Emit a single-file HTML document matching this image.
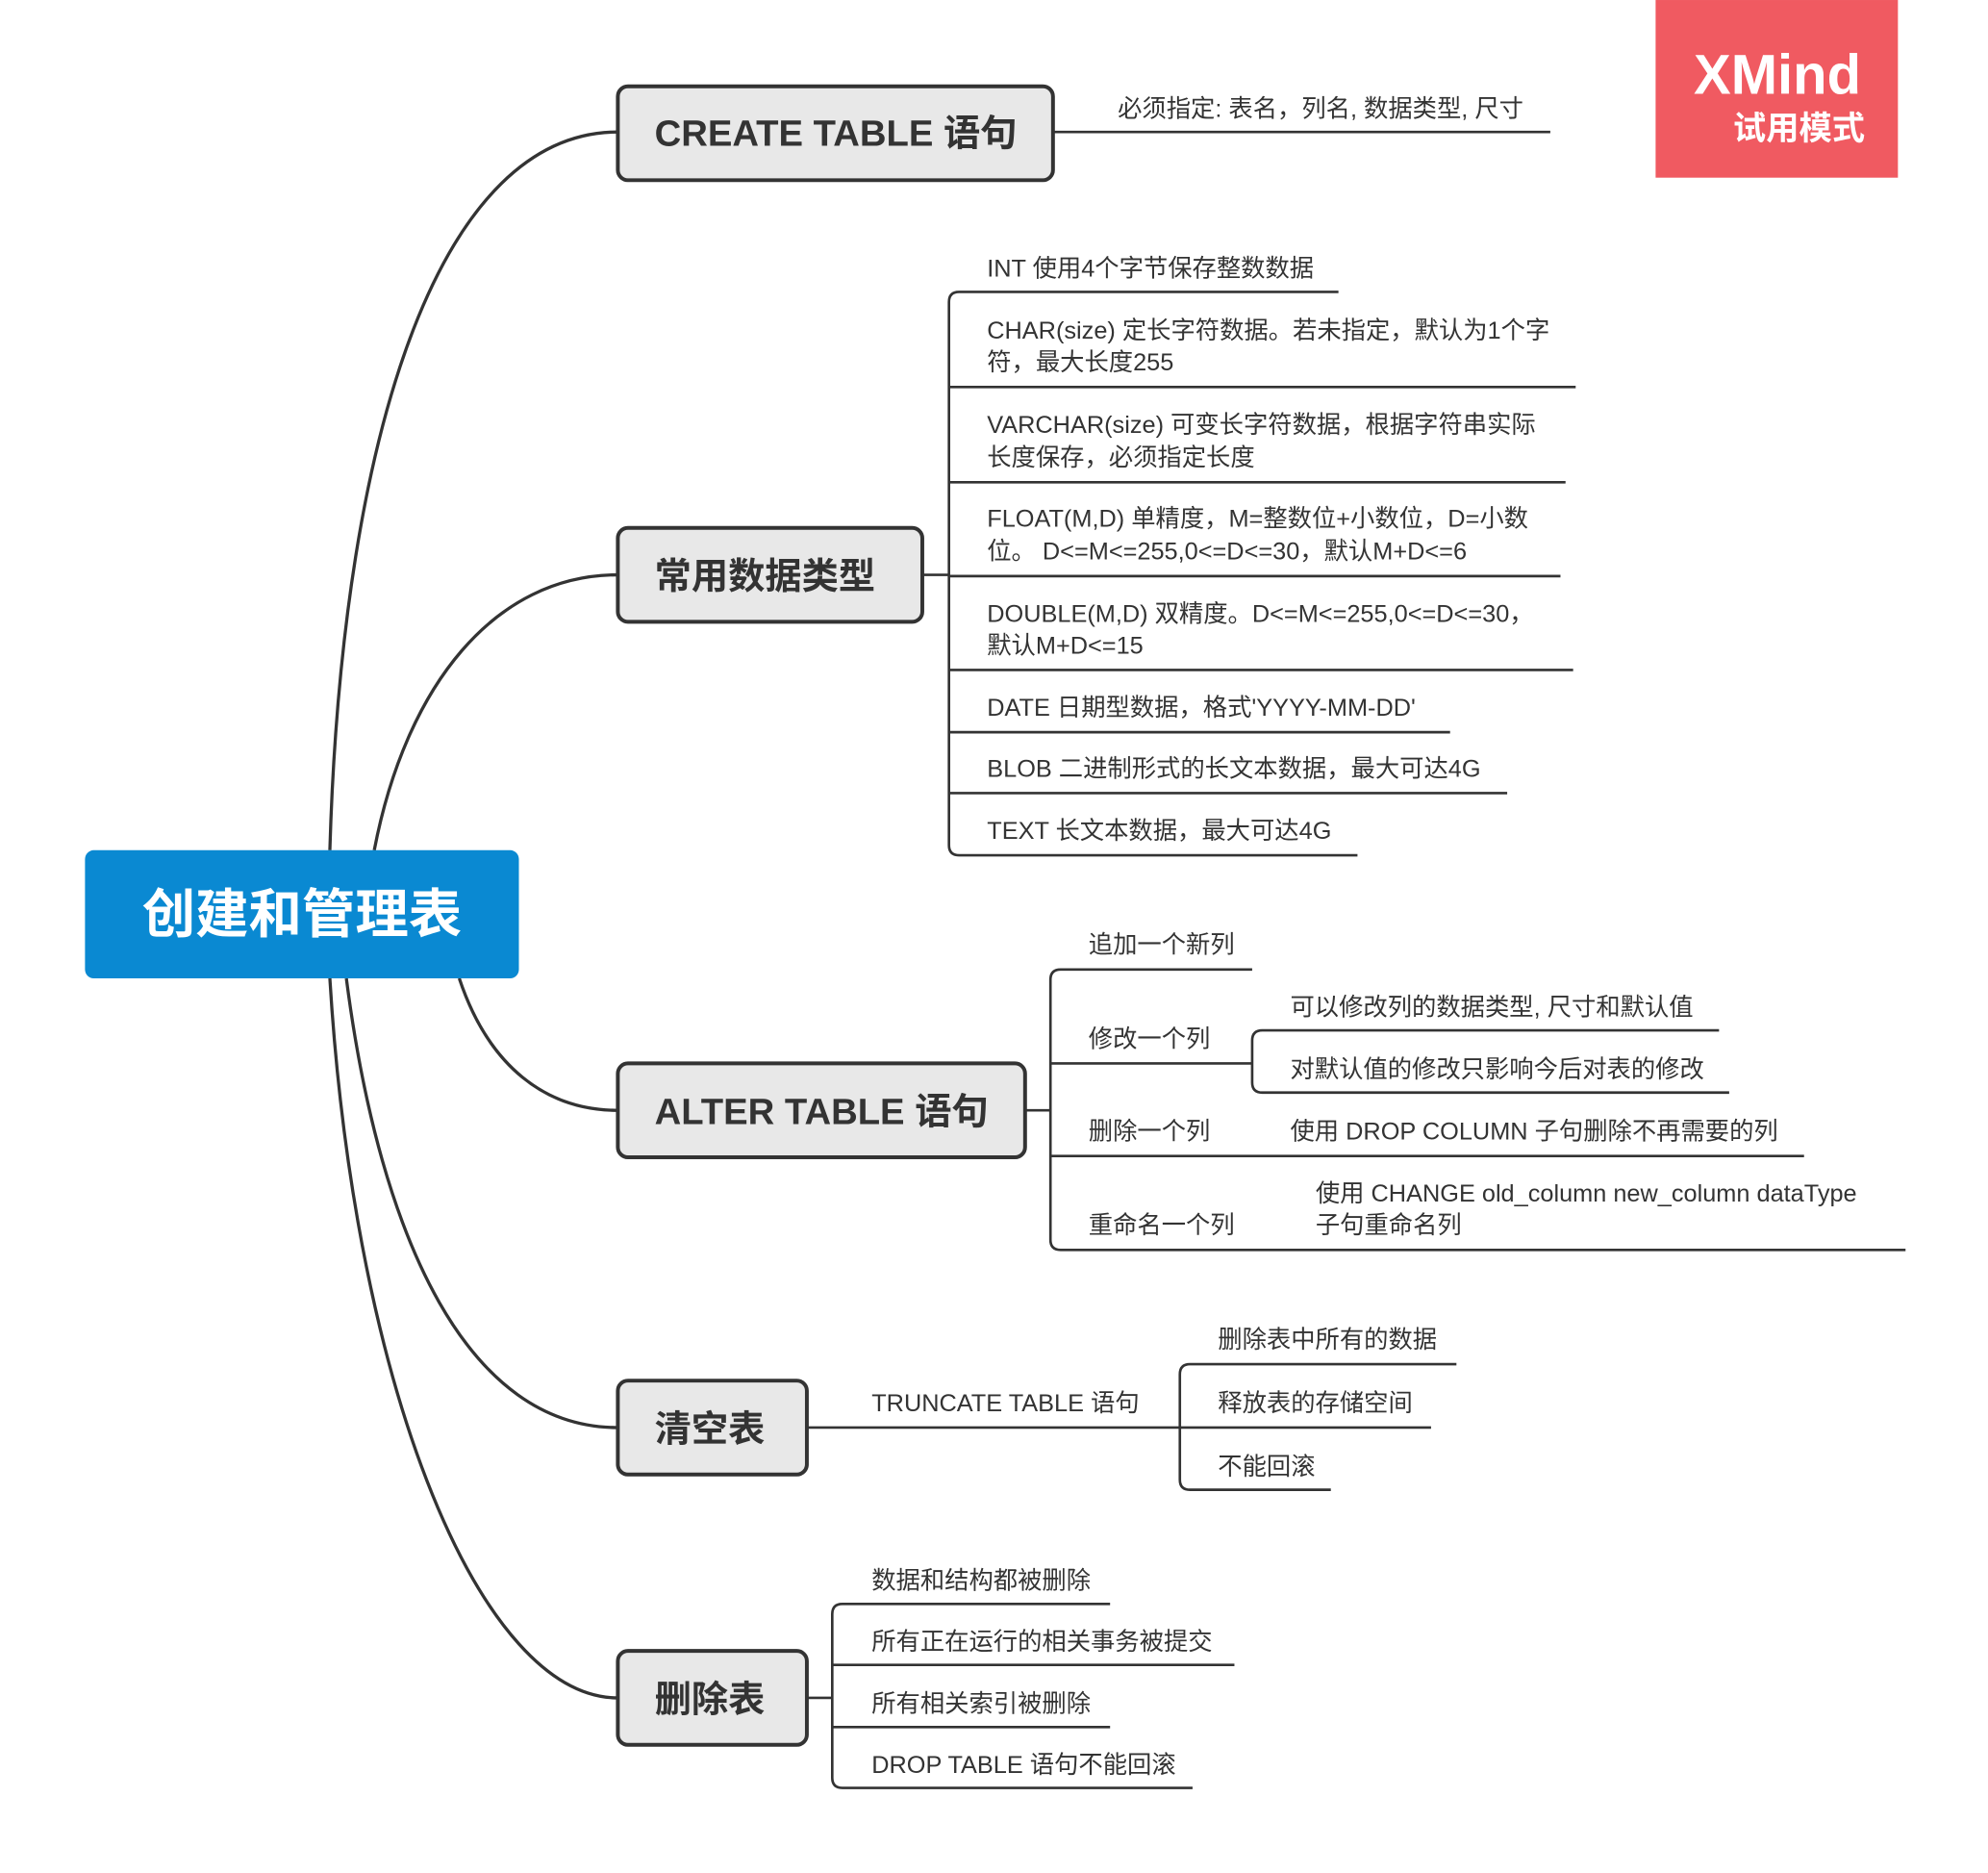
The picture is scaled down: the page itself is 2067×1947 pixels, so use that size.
<!DOCTYPE html>
<html><head><meta charset="utf-8"><style>
html,body{margin:0;padding:0;background:#fff;}
svg{display:block;}
text{font-family:"Liberation Sans","Noto Sans CJK SC",sans-serif;fill:#333;}
.s{font-size:19.2px;}
.t{font-size:29px;font-weight:bold;}
</style></head><body>
<svg width="2067" height="1947" viewBox="0 0 1567 1476" xmlns="http://www.w3.org/2000/svg">
<rect x="1305" y="0" width="191" height="140" fill="#f05a61"/>
<text x="1401" y="74" text-anchor="middle" style="font-size:44px;font-weight:bold;fill:#fff">XMind</text>
<text x="1470" y="110" text-anchor="end" style="font-size:26px;font-weight:bold;fill:#fff">试用模式</text>

<g fill="none" stroke="#333" stroke-width="2.5">
<path d="M260 670 C270 330 350 104 487 104"/>
<path d="M295 670 C320 540 390 453 487 453"/>
<path d="M362 771 C385 840 430 875 487 875"/>
<path d="M273 771 C300 980 370 1125 487 1125"/>
<path d="M260 771 C280 1100 380 1338 487 1338"/>
</g>
<g fill="none" stroke="#333" stroke-width="2">
<path d="M830 104 H1222"/>
<path d="M727 453 H748"/>
<path d="M1055 230 H756 Q748 230 748 238 V666 Q748 674 756 674 H1070"/>
<path d="M748 305 H1242 M748 380 H1234 M748 454 H1230 M748 528 H1240 M748 577 H1143 M748 625 H1188"/>
<path d="M808 875 H828"/>
<path d="M987 764 H836 Q828 764 828 772 V977 Q828 985 836 985 H1502"/>
<path d="M828 838 H987 M828 911 H1422"/>
<path d="M1355 812 H995 Q987 812 987 820 V853 Q987 861 995 861 H1363"/>
<path d="M636 1125 H1128"/>
<path d="M1148 1075 H938 Q930 1075 930 1083 V1166 Q930 1174 938 1174 H1049"/>
<path d="M636 1338 H656"/>
<path d="M875 1264 H664 Q656 1264 656 1272 V1401 Q656 1409 664 1409 H940"/>
<path d="M656 1312 H973 M656 1361 H875"/>
</g>

<rect x="67" y="670" width="342" height="101" rx="7" fill="#0a89d2"/>
<text x="238" y="735" text-anchor="middle" style="font-size:42px;font-weight:bold;fill:#fff">创建和管理表</text>

<g fill="#e8e8e8" stroke="#333" stroke-width="3">
<rect x="487" y="68" width="343" height="74" rx="8"/>
<rect x="487" y="416" width="240" height="74" rx="8"/>
<rect x="487" y="838" width="321" height="74" rx="8"/>
<rect x="487" y="1088" width="149" height="74" rx="8"/>
<rect x="487" y="1301" width="149" height="74" rx="8"/>
</g>
<text class="t" x="516" y="115">CREATE TABLE 语句</text>
<text class="t" x="516" y="464">常用数据类型</text>
<text class="t" x="516" y="886">ALTER TABLE 语句</text>
<text class="t" x="516" y="1136">清空表</text>
<text class="t" x="516" y="1349">删除表</text>

<g>
<text class="s" x="881" y="92">必须指定: 表名，列名, 数据类型, 尺寸</text>
<text class="s" x="778" y="218">INT 使用4个字节保存整数数据</text>
<text class="s" x="778" y="267">CHAR(size) 定长字符数据。若未指定，默认为1个字</text>
<text class="s" x="778" y="292">符，最大长度255</text>
<text class="s" x="778" y="341">VARCHAR(size) 可变长字符数据，根据字符串实际</text>
<text class="s" x="778" y="367">长度保存，必须指定长度</text>
<text class="s" x="778" y="415">FLOAT(M,D) 单精度，M=整数位+小数位，D=小数</text>
<text class="s" x="778" y="441">位。 D&lt;=M&lt;=255,0&lt;=D&lt;=30，默认M+D&lt;=6</text>
<text class="s" x="778" y="490">DOUBLE(M,D) 双精度。D&lt;=M&lt;=255,0&lt;=D&lt;=30，</text>
<text class="s" x="778" y="515">默认M+D&lt;=15</text>
<text class="s" x="778" y="564">DATE 日期型数据，格式'YYYY-MM-DD'</text>
<text class="s" x="778" y="612">BLOB 二进制形式的长文本数据，最大可达4G</text>
<text class="s" x="778" y="661">TEXT 长文本数据，最大可达4G</text>

<text class="s" x="858" y="751">追加一个新列</text>
<text class="s" x="858" y="825">修改一个列</text>
<text class="s" x="1017" y="800">可以修改列的数据类型, 尺寸和默认值</text>
<text class="s" x="1017" y="849">对默认值的修改只影响今后对表的修改</text>
<text class="s" x="858" y="898">删除一个列</text>
<text class="s" x="1017" y="898">使用 DROP COLUMN 子句删除不再需要的列</text>
<text class="s" x="858" y="972">重命名一个列</text>
<text class="s" x="1037" y="947">使用 CHANGE old_column new_column dataType</text>
<text class="s" x="1037" y="972">子句重命名列</text>

<text class="s" x="687" y="1112">TRUNCATE TABLE 语句</text>
<text class="s" x="960" y="1062">删除表中所有的数据</text>
<text class="s" x="960" y="1112">释放表的存储空间</text>
<text class="s" x="960" y="1162">不能回滚</text>

<text class="s" x="687" y="1252">数据和结构都被删除</text>
<text class="s" x="687" y="1300">所有正在运行的相关事务被提交</text>
<text class="s" x="687" y="1349">所有相关索引被删除</text>
<text class="s" x="687" y="1397">DROP TABLE 语句不能回滚</text>
</g>
</svg>
</body></html>
